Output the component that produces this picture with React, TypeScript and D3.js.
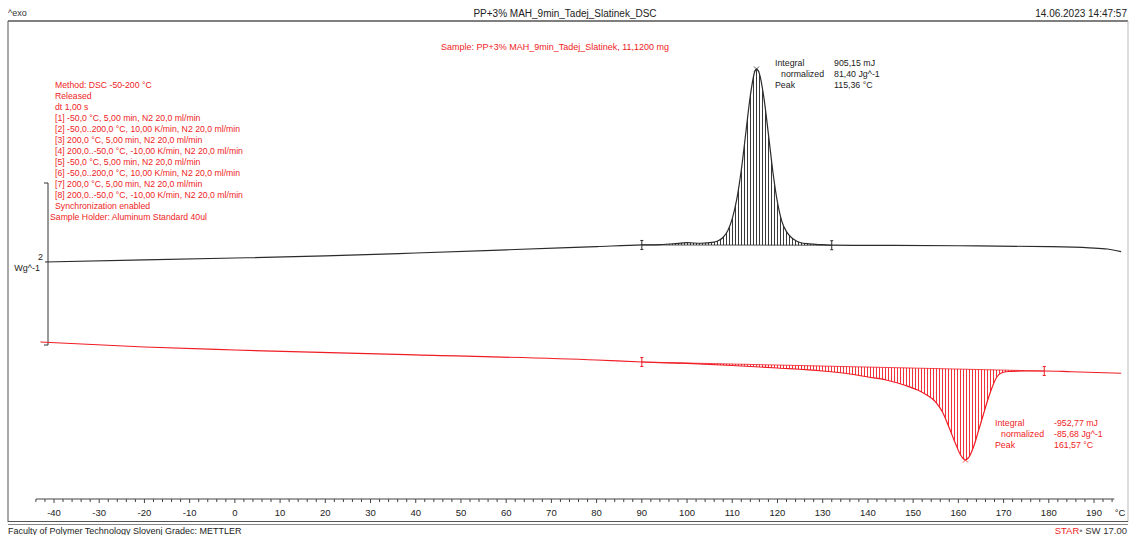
import { useEffect, useRef } from 'react';
import * as d3 from 'd3';

// heat flow curves (°C, W/g with arbitrary offset)
const blackTemp = [-42, -20, 0, 20, 40, 60, 80, 90, 94, 97, 100, 103, 106, 107, 108, 109, 110, 111, 112, 113, 114, 115, 115.36, 116, 117, 118, 119, 120, 121, 122, 123, 124, 125, 127, 130, 132, 140, 160, 180, 189, 193, 196];
const blackFlow = [1.025, 1.05, 1.074, 1.1, 1.136, 1.175, 1.215, 1.235, 1.24, 1.25, 1.263, 1.256, 1.27, 1.29, 1.33, 1.41, 1.56, 1.8, 2.16, 2.62, 3.08, 3.38, 3.407, 3.35, 3.05, 2.6, 2.13, 1.76, 1.52, 1.4, 1.33, 1.29, 1.265, 1.248, 1.238, 1.232, 1.23, 1.225, 1.215, 1.2, 1.185, 1.152];

const redTemp = [-43, -20, 0, 40, 80, 90, 100, 110, 120, 130, 136, 140, 144, 148, 151, 153, 155, 156.5, 158, 159.5, 160.5, 161.57, 162.5, 163.5, 164.5, 165.5, 166.5, 167.5, 168.5, 169.5, 171, 175, 179, 185, 196];
const redFlow = [0.037, -0.025, -0.062, -0.123, -0.185, -0.21, -0.228, -0.253, -0.284, -0.321, -0.358, -0.395, -0.432, -0.494, -0.556, -0.617, -0.704, -0.827, -1.025, -1.235, -1.358, -1.42, -1.37, -1.235, -1.049, -0.864, -0.679, -0.519, -0.395, -0.346, -0.327, -0.321, -0.321, -0.33, -0.349];

const blackLimits = [90, 132];
const redLimits = [90, 179];
const blackPeak = 115.36;
const redPeak = 161.57;

const tempTicks = [-40, -30, -20, -10, 0, 10, 20, 30, 40, 50, 60, 70, 80, 90, 100, 110, 120, 130, 140, 150, 160, 170, 180, 190];

const methodLines = [
  'Method: DSC -50-200 °C',
  'Released',
  'dt 1,00 s',
  '[1] -50,0 °C, 5,00 min, N2 20,0 ml/min',
  '[2] -50,0..200,0 °C, 10,00 K/min, N2 20,0 ml/min',
  '[3] 200,0 °C, 5,00 min, N2 20,0 ml/min',
  '[4] 200,0..-50,0 °C, -10,00 K/min, N2 20,0 ml/min',
  '[5] -50,0 °C, 5,00 min, N2 20,0 ml/min',
  '[6] -50,0..200,0 °C, 10,00 K/min, N2 20,0 ml/min',
  '[7] 200,0 °C, 5,00 min, N2 20,0 ml/min',
  '[8] 200,0..-50,0 °C, -10,00 K/min, N2 20,0 ml/min',
  'Synchronization enabled',
];
const holderLine = 'Sample Holder: Aluminum Standard 40ul';

const blackLabels = ['Integral', 'normalized', 'Peak'];
const blackValues = ['905,15 mJ', '81,40 Jg^-1', '115,36 °C'];
const redLabels = ['Integral', 'normalized', 'Peak'];
const redValues = ['-952,77 mJ', '-85,68 Jg^-1', '161,57 °C'];

const RED = '#f01c24';
const INK = '#2b2b2b';
const FONT = "'Liberation Sans', Arial, sans-serif";

const App = () => {
  const svgRef = useRef(null);

  useEffect(() => {
    const width = 1130;
    const height = 535;
    const svg = d3.select(svgRef.current);
    svg.selectAll('*').remove();
    svg.attr('width', width).attr('height', height).style('font-family', FONT);

    const x = d3.scaleLinear().domain([-40, 190]).range([54, 1094]);
    const y = d3.scaleLinear().domain([-1.9, 4.0]).range([498.9, 21]);

    const defs = svg.append('defs');
    const hatch = (id, color) => {
      const p = defs.append('pattern')
        .attr('id', id)
        .attr('patternUnits', 'userSpaceOnUse')
        .attr('width', 3)
        .attr('height', 6);
      p.append('line')
        .attr('x1', 0.5).attr('x2', 0.5).attr('y1', 0).attr('y2', 6)
        .attr('stroke', color).attr('stroke-width', 0.9);
    };
    hatch('hatchBlack', '#222');
    hatch('hatchRed', RED);

    // header
    svg.append('text').attr('x', 8).attr('y', 16).attr('font-size', 9).attr('fill', '#333').text('^exo');
    svg.append('text').attr('x', 565).attr('y', 17).attr('text-anchor', 'middle').attr('font-size', 10).attr('fill', '#222')
      .text('PP+3% MAH_9min_Tadej_Slatinek_DSC');
    svg.append('text').attr('x', 1127).attr('y', 17).attr('text-anchor', 'end').attr('font-size', 10).attr('fill', '#222')
      .text('14.06.2023 14:47:57');

    // frame
    svg.append('line').attr('x1', 8).attr('x2', 1128).attr('y1', 21).attr('y2', 21).attr('stroke', '#555').attr('stroke-width', 1.5);
    svg.append('line').attr('x1', 8).attr('x2', 8).attr('y1', 21).attr('y2', 522).attr('stroke', '#555');
    svg.append('line').attr('x1', 1128).attr('x2', 1128).attr('y1', 21).attr('y2', 522).attr('stroke', '#bbb');
    svg.append('line').attr('x1', 8).attr('x2', 1128).attr('y1', 521.5).attr('y2', 521.5).attr('stroke', '#555');
    svg.append('line').attr('x1', 8).attr('x2', 1128).attr('y1', 524.5).attr('y2', 524.5).attr('stroke', '#888');

    // footer
    svg.append('text').attr('x', 8).attr('y', 534).attr('font-size', 9).attr('fill', '#222')
      .text('Faculty of Polymer Technology Slovenj Gradec: METTLER');
    const star = svg.append('text').attr('x', 1127).attr('y', 534).attr('text-anchor', 'end').attr('font-size', 9.5);
    star.append('tspan').attr('fill', RED).text('STAR');
    star.append('tspan').attr('fill', '#888').text('\u2022 ');
    star.append('tspan').attr('fill', '#333').text('SW 17.00');

    // sample name
    svg.append('text').attr('x', 555).attr('y', 50).attr('text-anchor', 'middle').attr('font-size', 9).attr('fill', RED)
      .text('Sample: PP+3% MAH_9min_Tadej_Slatinek, 11,1200 mg');

    // method block
    const method = svg.append('g').attr('font-size', 8.7).attr('fill', RED);
    methodLines.forEach((t, i) => {
      method.append('text').attr('x', 55).attr('y', 88 + i * 11).text(t);
    });
    method.append('text').attr('x', 50).attr('y', 88 + methodLines.length * 11).text(holderLine);

    // x axis
    const axisY = 499;
    svg.append('line').attr('x1', x(-44)).attr('x2', x(194.5)).attr('y1', axisY).attr('y2', axisY).attr('stroke', '#444');
    svg.append('g').selectAll('line')
      .data(d3.range(-44, 195, 2))
      .join('line')
      .attr('x1', d => x(d)).attr('x2', d => x(d))
      .attr('y1', axisY).attr('y2', d => axisY + (d % 10 === 0 ? 4 : 3))
      .attr('stroke', '#444');
    svg.append('g').selectAll('text')
      .data(tempTicks)
      .join('text')
      .attr('x', d => x(d)).attr('y', 516)
      .attr('text-anchor', 'middle').attr('font-size', 9.5).attr('fill', '#222')
      .text(d => d);
    svg.append('text').attr('x', 1120).attr('y', 516).attr('text-anchor', 'middle').attr('font-size', 9.5).attr('fill', '#222').text('°C');

    // y scale bracket (2 W/g)
    const bx = 48;
    svg.append('path')
      .attr('d', `M${bx - 4},${y(2)}H${bx}V${y(0)}H${bx - 4}`)
      .attr('fill', 'none').attr('stroke', '#333');
    svg.append('text').attr('x', 43).attr('y', 260).attr('text-anchor', 'end').attr('font-size', 9).attr('fill', '#222').text('2');
    svg.append('text').attr('x', 40).attr('y', 271).attr('text-anchor', 'end').attr('font-size', 9).attr('fill', '#222').text('Wg^-1');

    const drawCurve = (temps, flows, limits, peak, color, patternId) => {
      const pts = temps.map((t, i) => [t, flows[i]]);
      const v0 = flows[temps.indexOf(limits[0])];
      const v1 = flows[temps.indexOf(limits[1])];
      const base = d3.scaleLinear().domain(limits).range([v0, v1]);
      const inside = pts.filter(d => d[0] >= limits[0] && d[0] <= limits[1]);

      svg.append('path')
        .datum(inside)
        .attr('d', d3.area()
          .x(d => x(d[0]))
          .y0(d => y(base(d[0])))
          .y1(d => y(d[1]))
          .curve(d3.curveMonotoneX))
        .attr('fill', `url(#${patternId})`);

      svg.append('line')
        .attr('x1', x(limits[0])).attr('x2', x(limits[1]))
        .attr('y1', y(v0)).attr('y2', y(v1))
        .attr('stroke', color).attr('stroke-width', 0.8);

      svg.append('path')
        .datum(pts)
        .attr('d', d3.line().x(d => x(d[0])).y(d => y(d[1])).curve(d3.curveMonotoneX))
        .attr('fill', 'none').attr('stroke', color).attr('stroke-width', 1.2);

      // integration limit marks
      limits.forEach((t, i) => {
        const cx = x(t);
        const cy = y(i === 0 ? v0 : v1);
        svg.append('path')
          .attr('d', `M${cx},${cy - 4.5}V${cy + 4.5}M${cx - 1.5},${cy - 4.5}H${cx + 1.5}M${cx - 1.5},${cy + 4.5}H${cx + 1.5}`)
          .attr('stroke', color).attr('stroke-width', 1).attr('fill', 'none');
      });

      // peak marker
      const px = x(peak);
      const py = y(flows[temps.indexOf(peak)]);
      svg.append('path')
        .attr('d', `M${px - 2.5},${py - 2.5}L${px + 2.5},${py + 2.5}M${px - 2.5},${py + 2.5}L${px + 2.5},${py - 2.5}`)
        .attr('stroke', color).attr('stroke-width', 0.8);
    };

    drawCurve(blackTemp, blackFlow, blackLimits, blackPeak, INK, 'hatchBlack');
    drawCurve(redTemp, redFlow, redLimits, redPeak, RED, 'hatchRed');

    // results
    const results = (labels, values, lx, vx, top, color) => {
      const g = svg.append('g').attr('font-size', 8.8).attr('fill', color);
      labels.forEach((t, i) => {
        g.append('text').attr('x', i === 1 ? lx + 6 : lx).attr('y', top + i * 11).text(t);
        g.append('text').attr('x', vx).attr('y', top + i * 11).text(values[i]);
      });
    };
    results(blackLabels, blackValues, 775, 834, 66, '#222');
    results(redLabels, redValues, 995, 1054, 426, RED);
  }, []);

  return <svg ref={svgRef} style={{ position: 'absolute', left: 0, top: 0 }}></svg>;
};

export default App;
